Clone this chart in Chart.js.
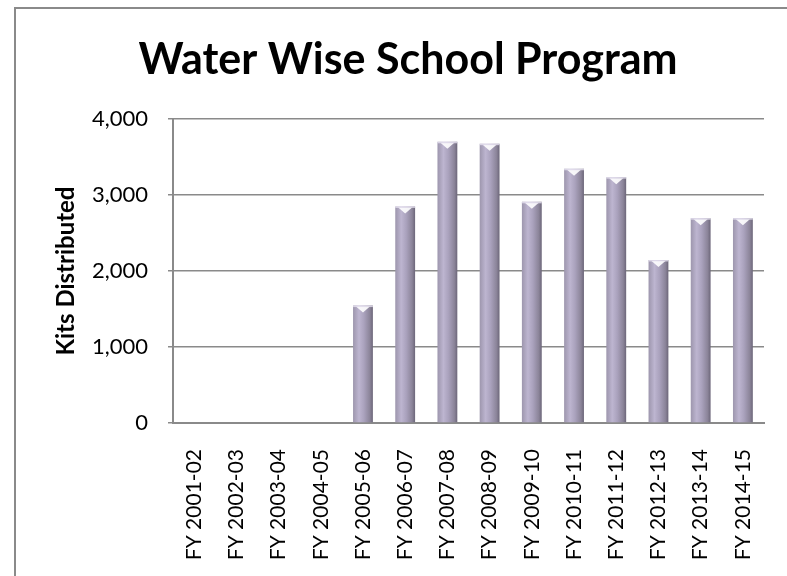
<!DOCTYPE html>
<html>
<head>
<meta charset="utf-8">
<script src="https://cdn.jsdelivr.net/npm/chart.js@4"></script>
<style>
  html, body { margin: 0; padding: 0; background: #fff; }
  .wrap { position: relative; width: 787px; height: 576px; }
</style>
</head>
<body>
<div class="wrap"><canvas id="kitsChart" width="787" height="576"></canvas></div>
<script>
// data
const years = ['FY 2001-02', 'FY 2002-03', 'FY 2003-04', 'FY 2004-05', 'FY 2005-06', 'FY 2006-07', 'FY 2007-08',
    'FY 2008-09', 'FY 2009-10', 'FY 2010-11', 'FY 2011-12', 'FY 2012-13', 'FY 2013-14', 'FY 2014-15'];
const kitsDistributed = [0, 0, 0, 0, 1545, 2850, 3700, 3675, 2910, 3345, 3235, 2145, 2695, 2695];
const yTicks = [0, 1000, 2000, 3000, 4000];

const BAR_PCT = 0.47;

// shaded lavender column like the old office 3d bars
function barFill(context) {
    const chart = context.chart;
    const area = chart.chartArea;
    if (!area) return '#aaa3bd';
    const xs = chart.scales.x;
    const cx = xs.getPixelForValue(context.dataIndex);
    const w = xs.width / years.length * BAR_PCT;
    const g = chart.ctx.createLinearGradient(cx - w / 2, 0, cx + w / 2, 0);
    g.addColorStop(0, '#9d96ad');
    g.addColorStop(0.3, '#bdb5d0');
    g.addColorStop(0.55, '#aaa2bd');
    g.addColorStop(0.85, '#8b8499');
    g.addColorStop(1, '#6c6679');
    return g;
}

// light bevel on top of each column + outer frame
const bevelTop = {
    id: 'bevelTop',
    afterDatasetsDraw(chart) {
        const c = chart.ctx;
        const meta = chart.getDatasetMeta(0);
        meta.data.forEach((bar, i) => {
            if (!kitsDistributed[i]) return;
            const half = bar.width / 2;
            c.save();
            c.fillStyle = 'rgba(255,255,255,0.9)';
            c.beginPath();
            c.moveTo(bar.x - half + 3, bar.y + 1);
            c.lineTo(bar.x + half - 3, bar.y + 1);
            c.lineTo(bar.x, bar.y + 7);
            c.closePath();
            c.fill();
            c.fillStyle = 'rgba(230,225,240,0.8)';
            c.fillRect(bar.x - half, bar.y, bar.width, 1.5);
            c.restore();
        });
    },
    beforeDraw(chart) {
        const c = chart.ctx;
        c.save();
        c.strokeStyle = '#8a8a8a';
        c.lineWidth = 2;
        c.beginPath();
        c.moveTo(15, chart.height + 2);
        c.lineTo(15, 8);
        c.lineTo(chart.width + 2, 8);
        c.stroke();
        c.restore();
    }
};

const ctx = document.getElementById('kitsChart').getContext('2d');

new Chart(ctx, {
    type: 'bar',
    data: {
        labels: years,
        datasets: [{
            label: 'Kits Distributed',
            data: kitsDistributed,
            backgroundColor: barFill,
            borderWidth: 0,
            categoryPercentage: 1,
            barPercentage: BAR_PCT
        }]
    },
    options: {
        responsive: false,
        animation: false,
        layout: { padding: { left: 52, right: 23, top: 0, bottom: 0 } },
        plugins: {
            legend: { display: false },
            tooltip: { enabled: false },
            title: {
                display: true,
                text: 'Water Wise School Program',
                color: '#000',
                font: { family: 'Lato', size: 43, weight: 'bold' },
                padding: { top: 34, bottom: 33.4 }
            }
        },
        scales: {
            x: {
                grid: { display: false },
                border: { display: true, color: '#8a8a8a', width: 2 },
                ticks: {
                    color: '#000',
                    font: { family: 'Lato', size: 21 },
                    minRotation: 90,
                    maxRotation: 90,
                    autoSkip: false,
                    padding: 18
                },
                afterFit: s => { s.height = 153; }
            },
            y: {
                min: 0,
                max: 4000,
                afterBuildTicks: s => { s.ticks = yTicks.map(v => ({ value: v })); },
                grid: { color: '#8a8a8a', lineWidth: 1.5, tickLength: 5 },
                border: { display: true, color: '#8a8a8a', width: 2 },
                ticks: {
                    color: '#000',
                    font: { family: 'Lato', size: 22 },
                    padding: 20,
                    callback: v => v.toLocaleString('en-US')
                },
                title: {
                    display: true,
                    text: 'Kits Distributed',
                    color: '#000',
                    font: { family: 'Lato', size: 24, weight: 'bold' },
                    padding: { top: 0, bottom: 0 }
                },
                afterFit: s => { s.width = 121; }
            }
        }
    },
    plugins: [bevelTop]
});
</script>
</body>
</html>
